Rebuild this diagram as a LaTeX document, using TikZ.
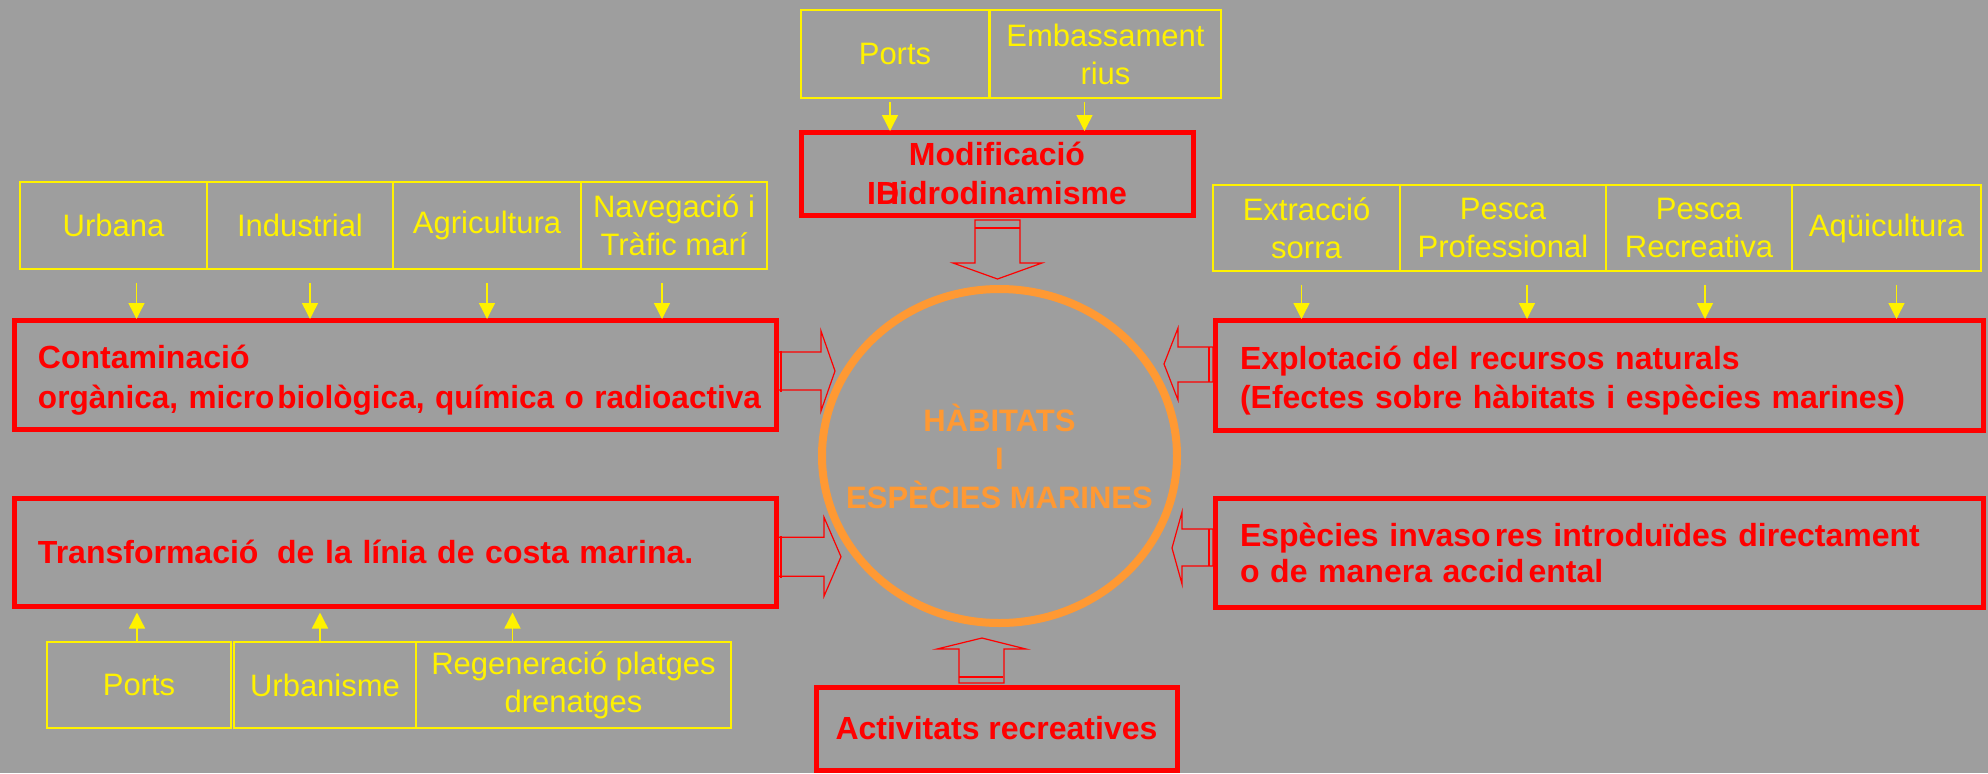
\documentclass[tikz,border=0pt]{standalone}
\usepackage{fontspec}
\setmainfont{Liberation Sans}
\usetikzlibrary{arrows.meta, positioning, calc, shapes.geometric}

\definecolor{bggray}{RGB}{158,158,158}
\definecolor{habitatorange}{RGB}{255,153,51}

\begin{document}
\begin{tikzpicture}[x=0.5pt, y=-0.5pt,
    srcbox/.style={draw=yellow, line width=1pt, text=yellow, align=center, inner sep=0pt, outer sep=0pt, font=\fontsize{15.5}{19}\selectfont},
    impbox/.style={draw=red, line width=2.5pt, text=red, inner sep=0pt, outer sep=0pt, font=\bfseries\fontsize{16}{19.5}\selectfont},
    yarrow/.style={draw=yellow, line width=0.7pt, -{Triangle[length=8pt, width=8pt]}},
    blockarrow/.style={draw=red, line width=0.6pt}]
    \fill[bggray] (0,0) rectangle (1988,773);
    \useasboundingbox (0,0) rectangle (1988,773);

    % centre
    \node[ellipse, draw=habitatorange, line width=4pt, minimum width=177.5pt, minimum height=167pt, inner sep=0pt] (ring) at (999.5,456) {};
    \node[text=habitatorange, align=center, inner sep=0pt, font=\bfseries\fontsize{15.5}{19.25}\selectfont] (habitat) at (ring.center) {HÀBITATS\\I\\ESPÈCIES MARINES};

    % impactes
    \node[impbox, anchor=north west, minimum width=196pt, minimum height=41.5pt, align=center] (modif) at (801,132) {Modificació\\I\rlap{H}Didrodinamisme};
    \node[impbox, anchor=north west, text width=357pt, inner xsep=12pt, minimum height=54.5pt, text height=17pt, align=left, font=\bfseries\fontsize{16}{20}\selectfont] (conta) at (14,320)
        {Contaminació\\\scalebox{0.985}[1]{orgànica, micro\kern1.5pt biològica, química o radioactiva}};
    \node[impbox, anchor=north west, text width=359pt, inner xsep=12.5pt, minimum height=55pt, text height=17pt, align=left] (explo) at (1215,320)
        {Explotació del recursos naturals\\(Efectes sobre hàbitats i espècies marines)};
    \node[impbox, anchor=north west, text width=357pt, inner xsep=12pt, minimum height=54.25pt, align=left] (transf) at (14,498)
        {Transformació\kern4pt{} de la línia de costa marina.};
    \node[impbox, anchor=north west, text width=359pt, inner xsep=12.5pt, minimum height=54.5pt, align=left, font=\bfseries\fontsize{16}{18}\selectfont] (invas) at (1215,498)
        {Espècies invaso\kern2pt res introduïdes directament\\o de manera accid\kern2pt ental};
    \node[impbox, anchor=north west, minimum width=180.5pt, minimum height=41.5pt] (activ) at (816,687) {Activitats recreatives};

    % causes
    \node[srcbox, anchor=north west, minimum width=94pt, minimum height=44pt] (ports) at (801,10) {Ports};
    \node[srcbox, right=0.5pt of ports, minimum width=115.5pt, minimum height=44pt] (embas) {Embassament\\rius};

    \node[srcbox, anchor=north west, minimum width=93.5pt, minimum height=43.5pt] (urbana) at (20,182) {Urbana};
    \node[srcbox, right=0pt of urbana, minimum width=93pt, minimum height=43.5pt] (indus) {Industrial};
    \node[srcbox, right=0pt of indus, minimum width=94pt, minimum height=43.5pt] (agri) {Agricultura};
    \node[srcbox, right=0pt of agri, minimum width=93pt, minimum height=43.5pt] (naveg) {Navegació i\\Tràfic marí};

    \node[srcbox, anchor=north west, minimum width=93.5pt, minimum height=43pt] (extrac) at (1213,185) {Extracció\\sorra};
    \node[srcbox, right=0pt of extrac, minimum width=103pt, minimum height=43pt] (pescprof) {Pesca\\Professional};
    \node[srcbox, right=0pt of pescprof, minimum width=93pt, minimum height=43pt] (pescrec) {Pesca\\Recreativa};
    \node[srcbox, right=0pt of pescrec, minimum width=94.5pt, minimum height=43pt] (aqui) {Aqüicultura};

    \node[srcbox, anchor=north west, minimum width=92pt, minimum height=43pt] (bports) at (47,642) {Ports};
    \node[srcbox, right=1.5pt of bports, minimum width=91pt, minimum height=43pt] (urbanis) {Urbanisme};
    \node[srcbox, right=0pt of urbanis, minimum width=157.5pt, minimum height=43pt] (regen) {Regeneració platges\\drenatges};

    % fletxes grogues
    \foreach \src/\dx in {ports/-5, embas/-21}
        \draw[yarrow] ($(\src.south)+(\dx,4)$) -- ($(\src.south |- modif.north)+(\dx,-1)$);
    \foreach \src/\dx in {urbana/23, indus/10, agri/0, naveg/-12}
        \draw[yarrow] ($(\src.south)+(\dx,14)$) -- ($(\src.south |- conta.north)+(\dx,-1)$);
    \foreach \src/\dx in {extrac/-5, pescprof/24, pescrec/6, aqui/10}
        \draw[yarrow] ($(\src.south)+(\dx,14)$) -- ($(\src.south |- explo.north)+(\dx,-1)$);
    \foreach \src/\dx in {bports/-2, urbanis/-5, regen/-61}
        \draw[yarrow] ($(\src.north)+(\dx,0)$) -- ($(\src.north |- transf.south)+(\dx,6)$);

    % fletxes blocs cap al centre
    \draw[blockarrow] ($(modif.south)+(-22,5)$) -- ++(0,43) -- ++(-22,0) -- ++(44.5,16) -- ++(44.5,-16) -- ++(-22,0) -- ++(0,-43) -- cycle;
    \draw[red, line width=1.2pt] ($(modif.south)+(-22,13)$) -- ++(45,0);
    \draw[blockarrow] ($(activ.north)+(-37.5,-4)$) -- ++(0,-34) -- ++(-22,0) -- ++(45,-11) -- ++(44,11) -- ++(-22,0) -- ++(0,34) -- cycle;
    \draw[red, line width=1.2pt] ($(activ.north)+(-37.5,-10)$) -- ++(44,0);
    \draw[blockarrow] ($(conta.east)+(0,-22.5)$) -- ++(45,0) -- ++(0,-21) -- ++(14,40) -- ++(-14,40) -- ++(0,-21) -- ++(-45,0) -- cycle;
    \draw[red, line width=1.2pt] ($(conta.east)+(5,-24)$) -- ++(0,41);
    \draw[blockarrow] ($(transf.east)+(0,-15)$) -- ++(48,0) -- ++(0,-20) -- ++(17,39.5) -- ++(-17,39.5) -- ++(0,-20) -- ++(-48,0) -- cycle;
    \draw[red, line width=1.2pt] ($(transf.east)+(5,-16.5)$) -- ++(0,42);
    \draw[blockarrow] ($(explo.west)+(-2,-28)$) -- ++(-35,0) -- ++(0,-19) -- ++(-14,36) -- ++(14,36) -- ++(0,-18) -- ++(35,0) -- cycle;
    \draw[red, line width=1.2pt] ($(explo.west)+(-6,-28)$) -- ++(0,35);
    \draw[blockarrow] ($(invas.west)+(-2,-23.5)$) -- ++(-31,0) -- ++(0,-17) -- ++(-10,36) -- ++(10,36) -- ++(0,-18) -- ++(31,0) -- cycle;
    \draw[red, line width=1.2pt] ($(invas.west)+(-6,-23.5)$) -- ++(0,37);
\end{tikzpicture}
\end{document}
